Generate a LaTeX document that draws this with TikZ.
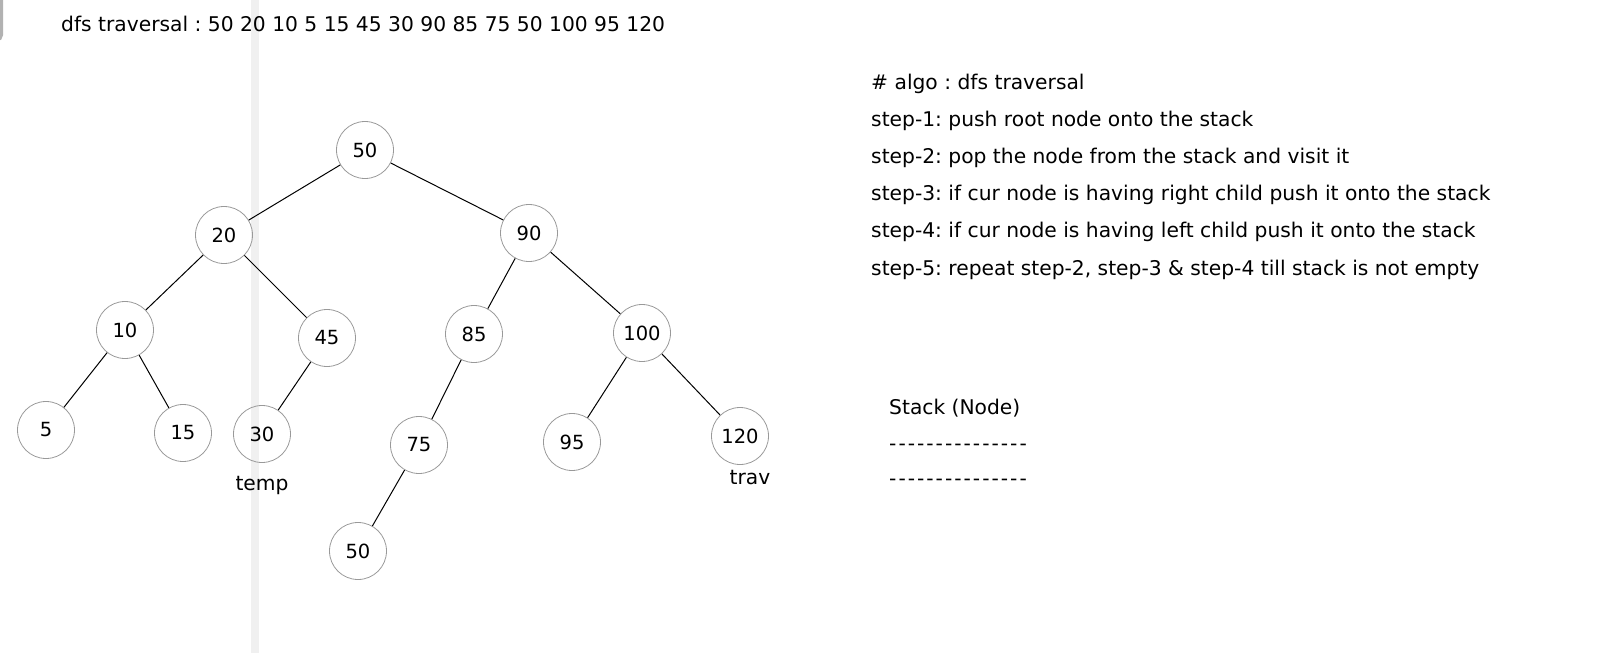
\documentclass[tikz,border=0pt]{standalone}
\usepackage{fontspec}
\setmainfont{DejaVu Sans}
\usepackage{tikz}
\usetikzlibrary{positioning}
\tikzstyle{treenode} = [circle, minimum size=57pt, inner sep=0pt, draw=black!40, line width=0.8pt, font=\fontsize{19.5}{23}\selectfont]
\tikzstyle{edge} = [draw=black, line width=1pt]
\tikzstyle{txt} = [anchor=base west, inner sep=0pt, font=\fontsize{20.25}{24}\selectfont]
\tikzstyle{ptr} = [inner sep=0pt, font=\fontsize{20.25}{24}\selectfont]
\newcommand{\dashrow}{\foreach \d in {1,...,15}{\mbox{-}\kern2pt}}
\frenchspacing

\begin{document}
\begin{tikzpicture}[x=1pt, y=-1pt]
\useasboundingbox (0,0) rectangle (1610,653);

% background marks
\fill[black!6] (251,0) rectangle (259,653);
\draw[black!30, line width=3pt, rounded corners=5pt] (1.5,-5) -- (1.5,40) -- (-10,40);

% traversal result
\node (result) [txt] at (61,31) {dfs traversal : 50 20 10 5 15 45 30 90 85 75 50 100 95 120};

% Tree
\node (n50) [treenode] at (365,150) {50};
\node (n20) [treenode] at (224,235) {20};
\node (n90) [treenode] at (529,233) {90};
\node (n10) [treenode] at (125,330) {10};
\node (n45) [treenode] at (327,338) {45};
\node (n85) [treenode] at (474,334) {85};
\node (n100) [treenode] at (642,333) {100};
\node (n5) [treenode] at (46,430) {5};
\node (n15) [treenode] at (183,433) {15};
\node (n30) [treenode] at (262,434) {30};
\node (n75) [treenode] at (419,445) {75};
\node (n95) [treenode] at (572,442) {95};
\node (n120) [treenode] at (740,436) {120};
\node (n50b) [treenode] at (358,551) {50};

% pointers
\node (temp) [ptr, below=13pt of n30] {temp};
\node (trav) [ptr, below=5pt of n120, xshift=10pt] {trav};

% Edges
\draw [edge] (n50) -- (n20);
\draw [edge] (n50) -- (n90);
\draw [edge] (n20) -- (n10);
\draw [edge] (n20) -- (n45);
\draw [edge] (n10) -- (n5);
\draw [edge] (n10) -- (n15);
\draw [edge] (n45) -- (n30);
\draw [edge] (n90) -- (n85);
\draw [edge] (n90) -- (n100);
\draw [edge] (n85) -- (n75);
\draw [edge] (n75) -- (n50b);
\draw [edge] (n100) -- (n95);
\draw [edge] (n100) -- (n120);

% Right side: algorithm
\node (algo) [txt] at (871,89) {\# algo : dfs traversal};
\node (s1) [txt] at (871,126) {step-1: push root node onto the stack};
\node (s2) [txt] at (871,163) {step-2: pop the node from the stack and visit it};
\node (s3) [txt] at (871,200) {step-3: if cur node is having right child push it onto the stack};
\node (s4) [txt] at (871,237) {step-4: if cur node is having left child push it onto the stack};
\node (s5) [txt] at (871,275) {step-5: repeat step-2, step-3 \& step-4 till stack is not empty};

% Stack
\node (stack) [txt] at (889,414) {Stack (Node)};
\node (top) [txt] at (889,450) {\dashrow};
\node (bottom) [txt] at (889,485) {\dashrow};

\end{tikzpicture}
\end{document}
